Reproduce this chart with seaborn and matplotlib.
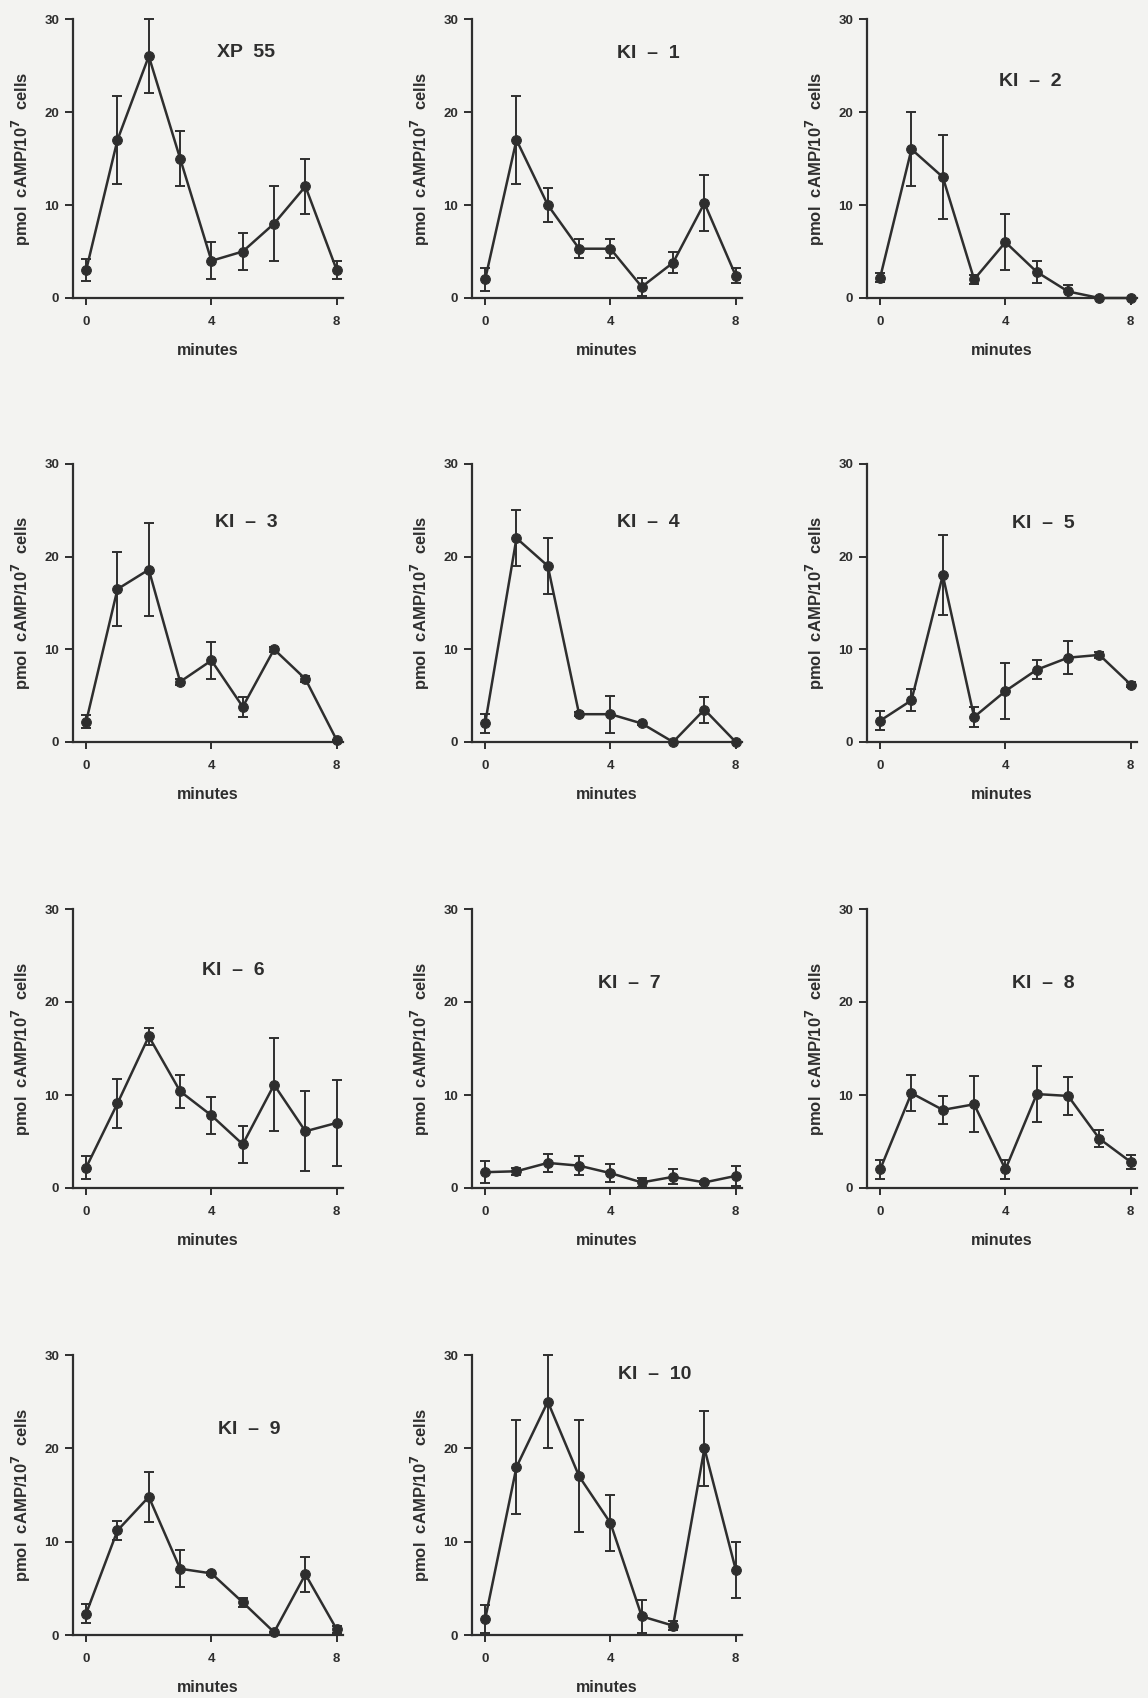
import numpy as np
import pandas as pd
import matplotlib
matplotlib.use("Agg")
import matplotlib.pyplot as plt
import seaborn as sns

# time points (minutes)
minutes = [0, 1, 2, 3, 4, 5, 6, 7, 8]

# mean cAMP (pmol / 10^7 cells) and error for each strain
xp55 = [3, 17, 26, 15, 4, 5, 8, 12, 3]
xp55_err = [1.2, 4.7, 4, 3, 2, 2, 4, 3, 1]

ki1 = [2, 17, 10, 5.3, 5.3, 1.2, 3.8, 10.2, 2.4]
ki1_err = [1.2, 4.7, 1.8, 1, 1, 1, 1.1, 3, 0.8]

ki2 = [2.2, 16, 13, 2, 6, 2.8, 0.7, 0, 0]
ki2_err = [0.5, 4, 4.5, 0.5, 3, 1.2, 0.7, 0, 0]

ki3 = [2.2, 16.5, 18.6, 6.5, 8.8, 3.8, 10, 6.8, 0.2]
ki3_err = [0.7, 4, 5, 0.3, 2, 1.1, 0.3, 0.3, 0]

ki4 = [2, 22, 19, 3, 3, 2, 0, 3.5, 0]
ki4_err = [1, 3, 3, 0.2, 2, 0.2, 0, 1.4, 0]

ki5 = [2.3, 4.5, 18, 2.7, 5.5, 7.8, 9.1, 9.4, 6.2]
ki5_err = [1, 1.2, 4.3, 1.1, 3, 1, 1.8, 0.3, 0.3]

ki6 = [2.2, 9.1, 16.3, 10.4, 7.8, 4.7, 11.1, 6.1, 7.0]
ki6_err = [1.2, 2.6, 0.9, 1.8, 2, 2, 5, 4.3, 4.6]

ki7 = [1.7, 1.8, 2.7, 2.4, 1.6, 0.6, 1.2, 0.6, 1.3]
ki7_err = [1.2, 0.4, 1, 1, 1, 0.5, 0.8, 0.2, 1.1]

ki8 = [2, 10.2, 8.4, 9, 2, 10.1, 9.9, 5.3, 2.8]
ki8_err = [1, 1.9, 1.5, 3, 1, 3, 2, 0.9, 0.8]

ki9 = [2.3, 11.2, 14.8, 7.1, 6.6, 3.5, 0.3, 6.5, 0.6]
ki9_err = [1, 1, 2.7, 2, 0.2, 0.5, 0, 1.9, 0.4]

ki10 = [1.7, 18, 25, 17, 12, 2, 1, 20, 7]
ki10_err = [1.5, 5, 5, 6, 3, 1.8, 0.5, 4, 3]

names = ["XP  55", "KI  \u2013  1", "KI  \u2013  2", "KI  \u2013  3", "KI  \u2013  4",
         "KI  \u2013  5", "KI  \u2013  6", "KI  \u2013  7", "KI  \u2013  8",
         "KI  \u2013  9", "KI  \u2013  10"]
means = [xp55, ki1, ki2, ki3, ki4, ki5, ki6, ki7, ki8, ki9, ki10]
errs = [xp55_err, ki1_err, ki2_err, ki3_err, ki4_err, ki5_err,
        ki6_err, ki7_err, ki8_err, ki9_err, ki10_err]

# where the panel label sits (data coords)
title_xy = [(5.1, 26.4), (5.2, 26.3), (4.8, 23.3), (5.1, 23.7), (5.2, 23.7),
            (5.2, 23.6), (4.7, 23.4), (4.6, 22.0), (5.2, 22.0), (5.2, 22.0),
            (5.4, 27.9)]

sns.set_style("ticks")
plt.rcParams['font.family'] = ['Liberation Sans', 'DejaVu Sans']

ink = "#2e2e2e"
paper = "#f3f3f1"

W, H = 1148, 1698
fig = plt.figure(figsize=(W / 100, H / 100), dpi=100, facecolor=paper)

col_left = [73, 472, 867]
row_tb = [(19, 298), (464, 742), (909, 1188), (1355, 1635)]
ax_w = 270

for i, name in enumerate(names):
    r, c = divmod(i, 3)
    top, bot = row_tb[r]
    ax = fig.add_axes([col_left[c] / W, 1 - bot / H, ax_w / W, (bot - top) / H])
    ax.set_facecolor(paper)

    df = pd.DataFrame({"minutes": minutes, "camp": means[i], "err": errs[i]})
    ax.errorbar(df["minutes"], df["camp"], yerr=df["err"], fmt="none",
                ecolor=ink, elinewidth=1.4, capsize=3.8, capthick=1.4,
                clip_on=False, zorder=2)
    sns.lineplot(data=df, x="minutes", y="camp", ax=ax, color=ink,
                 linewidth=1.8, marker="o", markersize=7,
                 markeredgecolor=ink, clip_on=False, zorder=3)

    ax.set_xlim(-0.42, 8.2)
    ax.set_ylim(0, 30)
    ax.set_xticks([0, 4, 8])
    ax.set_yticks([0, 10, 20, 30])
    sns.despine(ax=ax)
    for side in ["left", "bottom"]:
        ax.spines[side].set_linewidth(1.6)
        ax.spines[side].set_color(ink)
    ax.tick_params(axis="both", colors=ink, width=1.4, labelsize=9.5,
                   direction="out")
    ax.tick_params(axis="y", length=6, pad=4)
    ax.tick_params(axis="x", length=5, pad=8)
    for lab in ax.get_xticklabels() + ax.get_yticklabels():
        lab.set_fontweight("bold")

    ax.set_xlabel("minutes", fontsize=11.5, fontweight="bold", color=ink,
                  labelpad=11)
    ax.set_ylabel("pmol  cAMP/10$^\\mathbf{7}$  cells", fontsize=12,
                  fontweight="bold", color=ink, labelpad=8)
    tx, ty = title_xy[i]
    ax.text(tx, ty, name, ha="center", va="center", fontsize=14,
            fontweight="bold", color=ink)

fig.savefig("out.png", dpi=100, facecolor=paper)
